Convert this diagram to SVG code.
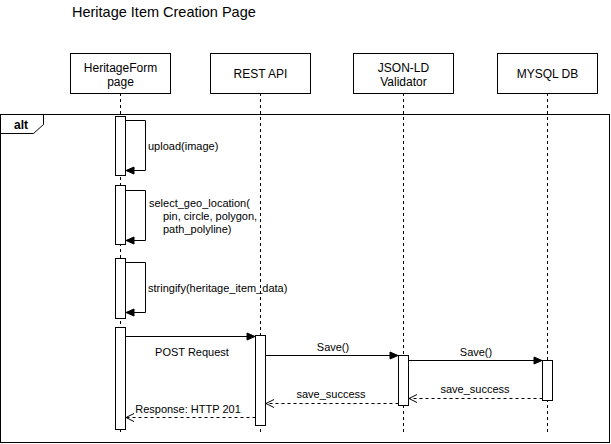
<svg xmlns="http://www.w3.org/2000/svg" width="611" height="444" viewBox="0 0 611 444">
<style>
text{font-family:"Liberation Sans",Arial,sans-serif;fill:#000}
.t{font-size:14.5px}
.p{font-size:12px;text-anchor:middle}
.l{font-size:11px}
.c{text-anchor:middle}
.box{fill:#fff;stroke:#000;stroke-width:1}
.life{stroke:#000;stroke-width:1;stroke-dasharray:3 3;fill:none}
.msg{stroke:#000;stroke-width:1;fill:none}
.ret{stroke:#000;stroke-width:1;fill:none;stroke-dasharray:3 3}
.act{fill:#fff;stroke:#000;stroke-width:1}
</style>
<defs>
<marker id="fill" markerUnits="userSpaceOnUse" markerWidth="9" markerHeight="8" refX="8" refY="3.5" orient="auto" overflow="visible">
<path d="M0,0 L8,3.5 L0,7 z" fill="#000" stroke="#000" stroke-width="1"/>
</marker>
<marker id="open" markerUnits="userSpaceOnUse" markerWidth="9" markerHeight="9" refX="8" refY="4" orient="auto" overflow="visible">
<path d="M0,0 L8,4 L0,8" fill="none" stroke="#000" stroke-width="1"/>
</marker>
</defs>
<rect width="611" height="444" fill="#fff"/>
<text class="t" x="72" y="17">Heritage Item Creation Page</text>

<g id="frame-alt">
<rect x="0.5" y="114.5" width="609" height="328" fill="none" stroke="#000"/>
<path d="M0.5,114.5 L43.5,114.5 L43.5,124.5 L33.5,133.5 L0.5,133.5" fill="none" stroke="#000"/>
<text x="14" y="129" style="font-size:12px;font-weight:bold">alt</text>
</g>

<g id="lifelines">
<line class="life" x1="120.5" y1="93" x2="120.5" y2="433"/>
<line class="life" x1="260.5" y1="93" x2="260.5" y2="433"/>
<line class="life" x1="403.5" y1="93" x2="403.5" y2="433"/>
<line class="life" x1="547.5" y1="93" x2="547.5" y2="433"/>
</g>

<g id="node-heritageform">
<rect class="box" x="70.5" y="53.5" width="100" height="40"/>
<text class="p" x="120.5" y="72">HeritageForm</text>
<text class="p" x="120.5" y="86">page</text>
</g>
<g id="node-restapi">
<rect class="box" x="210.5" y="53.5" width="100" height="40"/>
<text class="p" x="260.5" y="77.5">REST API</text>
</g>
<g id="node-validator">
<rect class="box" x="353.5" y="53.5" width="100" height="40"/>
<text class="p" x="403.5" y="72">JSON-LD</text>
<text class="p" x="403.5" y="86">Validator</text>
</g>
<g id="node-mysql">
<rect class="box" x="497.5" y="53.5" width="100" height="40"/>
<text class="p" x="547.5" y="77.5">MYSQL DB</text>
</g>

<g id="activations">
<rect class="act" x="115.5" y="116.5" width="10" height="59"/>
<rect class="act" x="115.5" y="185.5" width="10" height="59"/>
<rect class="act" x="115.5" y="258.5" width="10" height="60"/>
<rect class="act" x="115.5" y="327.5" width="10" height="102"/>
<rect class="act" x="255.5" y="335.5" width="10" height="90"/>
<rect class="act" x="398.5" y="355.5" width="10" height="50"/>
<rect class="act" x="542.5" y="360.5" width="10" height="40"/>
</g>

<g id="connectors">
<path class="msg" d="M125.5,120.5 H145.5 V170.5 H126" marker-end="url(#fill)"/>
<path class="msg" d="M125.5,190.5 H145.5 V240.5 H126" marker-end="url(#fill)"/>
<path class="msg" d="M125.5,262.5 H145.5 V312.5 H126" marker-end="url(#fill)"/>
<line class="msg" x1="125.5" y1="336.5" x2="255" y2="336.5" marker-end="url(#fill)"/>
<line class="msg" x1="265.5" y1="355.5" x2="398" y2="355.5" marker-end="url(#fill)"/>
<line class="msg" x1="408.5" y1="360.5" x2="542" y2="360.5" marker-end="url(#fill)"/>
<line class="ret" x1="542.5" y1="398.5" x2="409" y2="398.5" marker-end="url(#open)"/>
<line class="ret" x1="398.5" y1="403.5" x2="266" y2="403.5" marker-end="url(#open)"/>
<line class="ret" x1="255.5" y1="417.5" x2="126" y2="417.5" marker-end="url(#open)"/>
</g>

<g id="labels">
<text class="l" x="148" y="150">upload(image)</text>
<text class="l" x="149" y="207">select_geo_location(</text>
<text class="l" x="163" y="220">pin, circle, polygon,</text>
<text class="l" x="163" y="233">path_polyline)</text>
<text class="l" x="148" y="292">stringify(heritage_item_data)</text>
<text class="l c" x="192" y="356">POST Request</text>
<text class="l c" x="188" y="413">Response: HTTP 201</text>
<text class="l c" x="333" y="351">Save()</text>
<text class="l c" x="476" y="356">Save()</text>
<text class="l c" x="331" y="398">save_success</text>
<text class="l c" x="475" y="393">save_success</text>
</g>
</svg>
